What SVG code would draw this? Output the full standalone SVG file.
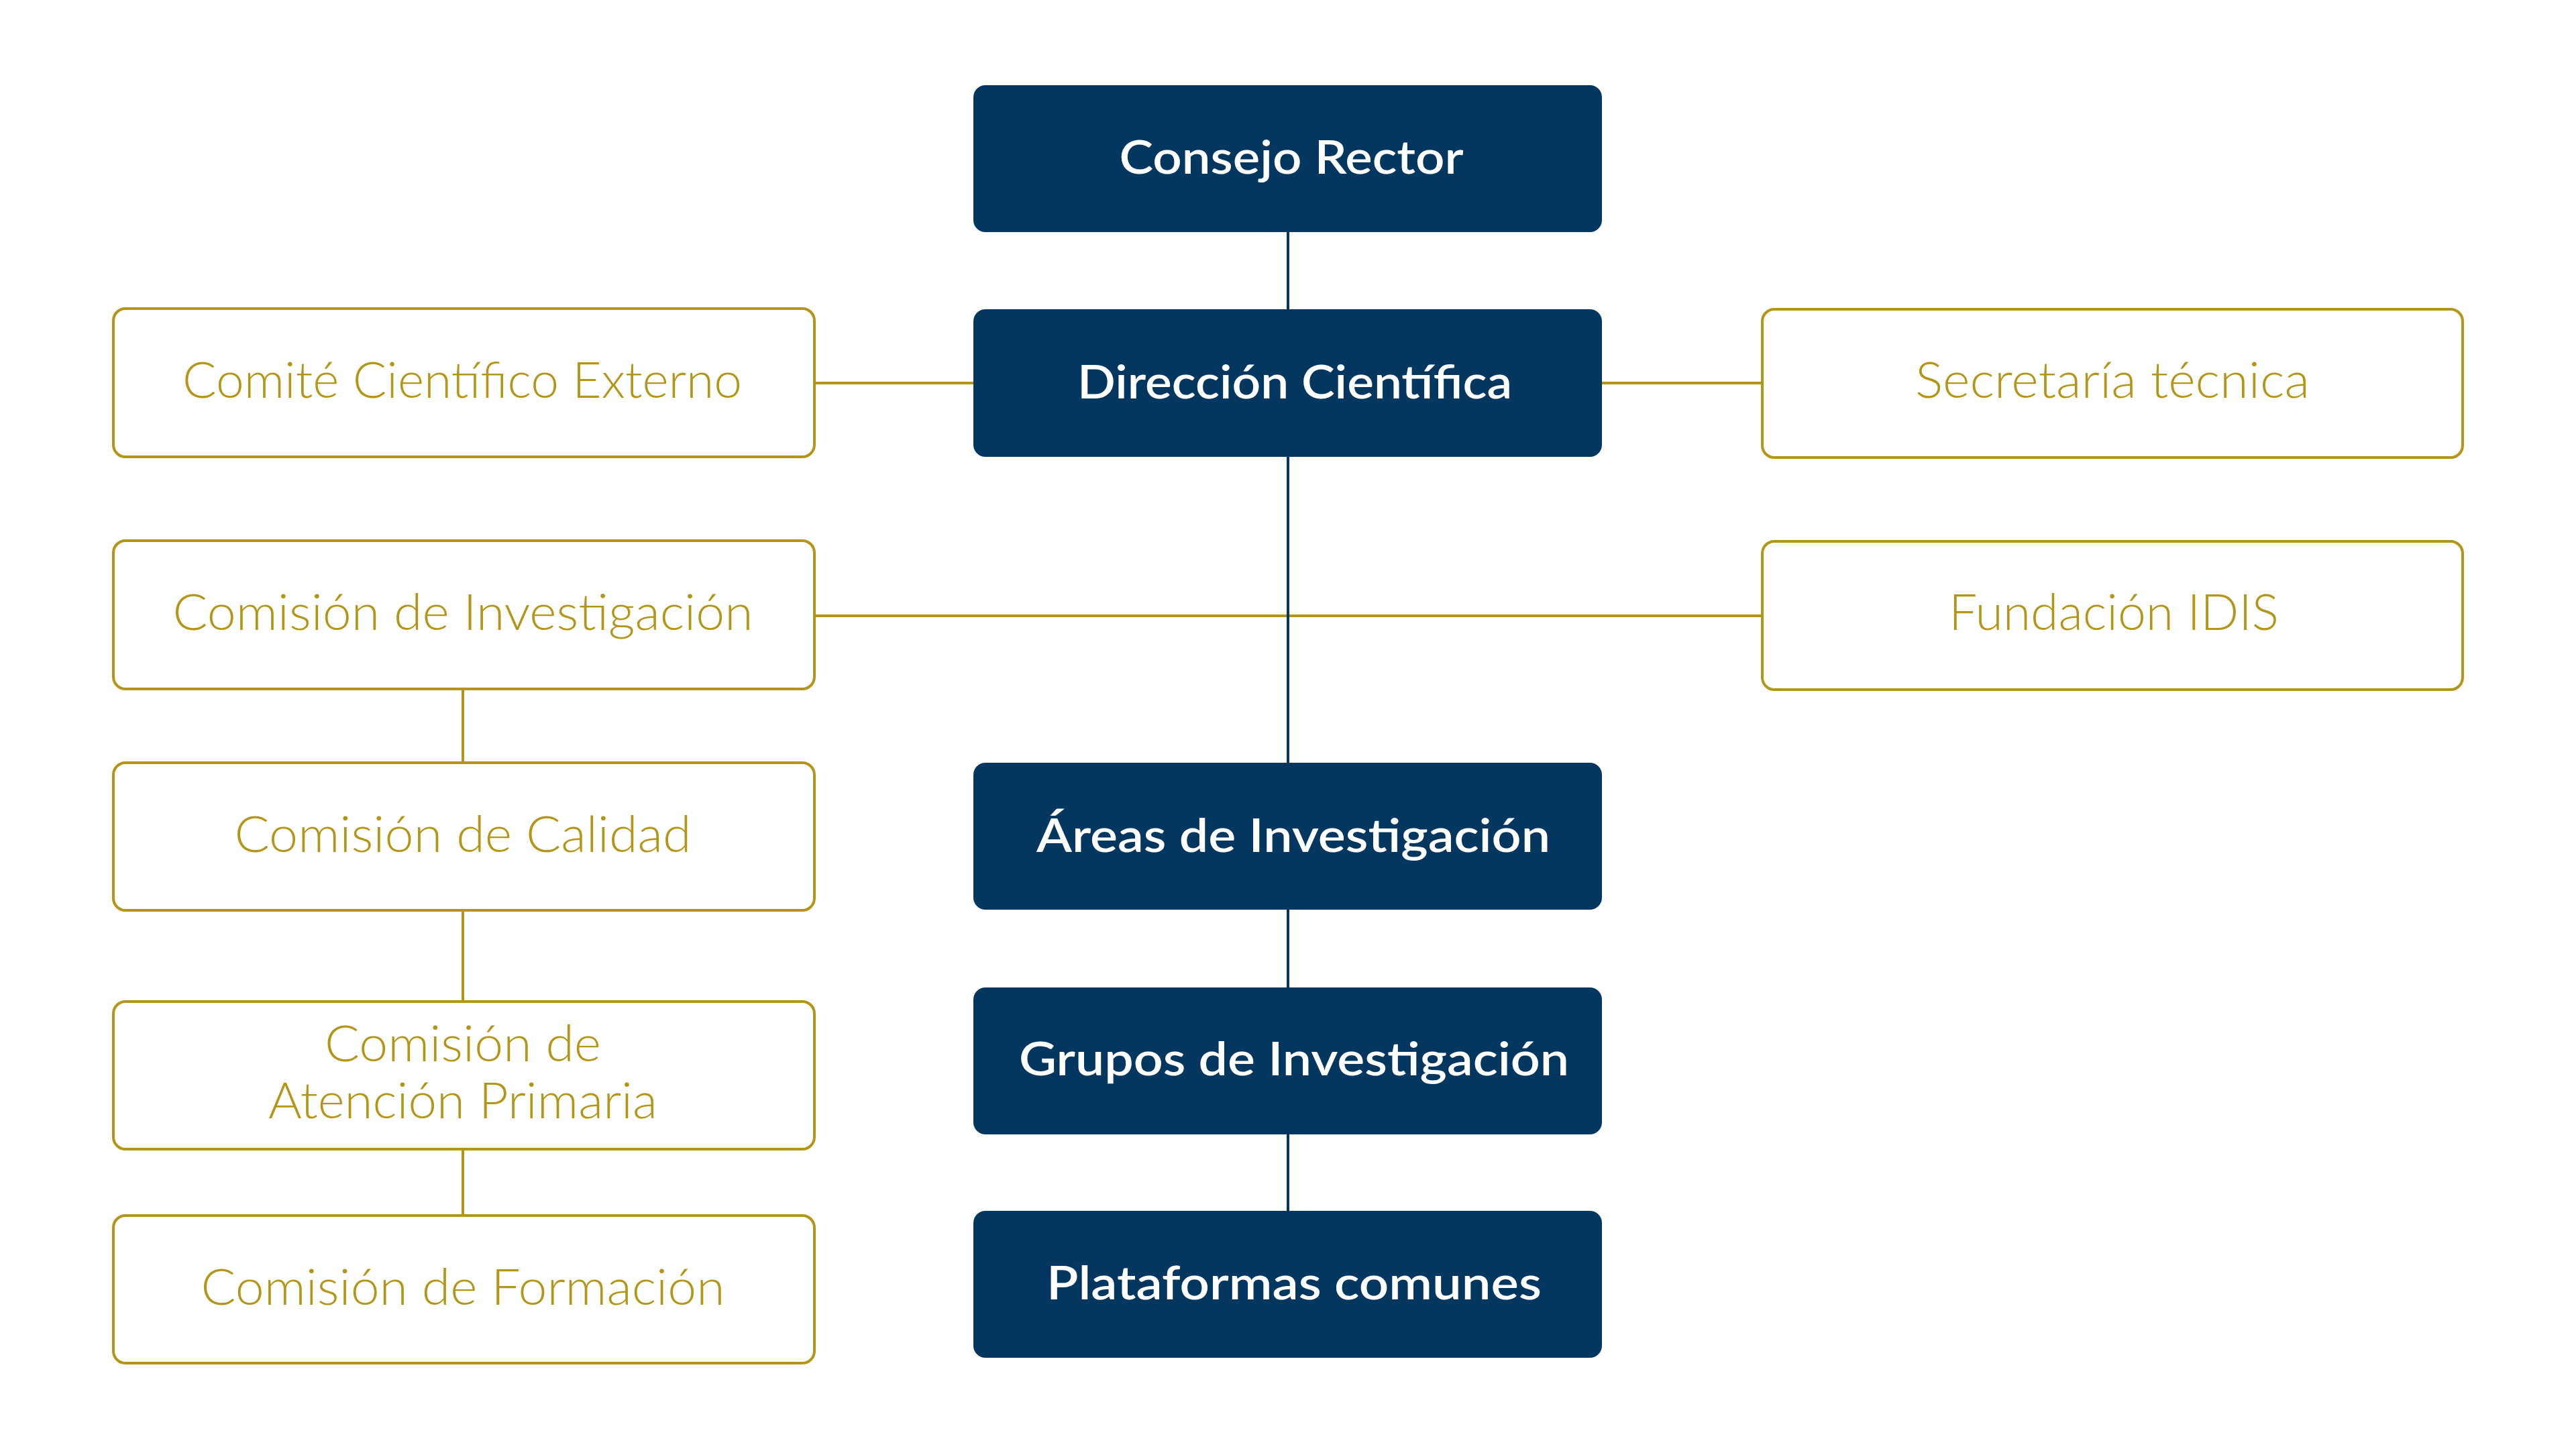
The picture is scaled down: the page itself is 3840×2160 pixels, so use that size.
<svg xmlns="http://www.w3.org/2000/svg" width="3840" height="2160" viewBox="0 0 3840 2160">
<style>
.navy{fill:#03375F;}
.gold{fill:#FFFFFF;stroke:#B39617;stroke-width:4;}
.tn{font-family:Lato,"Open Sans","Liberation Sans",sans-serif;font-weight:600;font-size:70px;fill:#FFFFFF;text-anchor:middle;}
.tg{font-family:Lato,"Open Sans","Liberation Sans",sans-serif;font-weight:300;font-size:74px;fill:#B39617;text-anchor:middle;}
.cg{stroke:#B39617;stroke-width:4;fill:none;}
.cn{stroke:#03375F;stroke-width:4;fill:none;}
</style>
<rect width="3840" height="2160" fill="#FFFFFF"/>
<g id="connectors">
<line class="cg" x1="1214" y1="571" x2="1451" y2="571"/>
<line class="cg" x1="2388" y1="571" x2="2627" y2="571"/>
<line class="cg" x1="1214" y1="918" x2="2627" y2="918"/>
<line class="cg" x1="690" y1="1027" x2="690" y2="1137"/>
<line class="cg" x1="690" y1="1357" x2="690" y2="1493"/>
<line class="cg" x1="690" y1="1713" x2="690" y2="1812"/>
<line class="cn" x1="1920" y1="346" x2="1920" y2="461"/>
<line class="cn" x1="1920" y1="681" x2="1920" y2="1137"/>
<line class="cn" x1="1920" y1="1356" x2="1920" y2="1472"/>
<line class="cn" x1="1920" y1="1691" x2="1920" y2="1805"/>
</g>
<g id="consejo-rector">
<rect class="navy" x="1451" y="127" width="937" height="219" rx="18"/>
<text class="tn" x="1925" y="259" textLength="513" lengthAdjust="spacingAndGlyphs">Consejo Rector</text>
</g>
<g id="direccion-cientifica">
<rect class="navy" x="1451" y="461" width="937" height="220" rx="18"/>
<text class="tn" x="1930" y="594" textLength="648" lengthAdjust="spacingAndGlyphs">Dirección Científica</text>
</g>
<g id="areas-investigacion">
<rect class="navy" x="1451" y="1137" width="937" height="219" rx="18"/>
<text class="tn" x="1928" y="1270" textLength="766" lengthAdjust="spacingAndGlyphs">Áreas de Investigación</text>
</g>
<g id="grupos-investigacion">
<rect class="navy" x="1451" y="1472" width="937" height="219" rx="18"/>
<text class="tn" x="1929" y="1603" textLength="820" lengthAdjust="spacingAndGlyphs">Grupos de Investigación</text>
</g>
<g id="plataformas-comunes">
<rect class="navy" x="1451" y="1805" width="937" height="219" rx="18"/>
<text class="tn" x="1929" y="1937" textLength="738" lengthAdjust="spacingAndGlyphs">Plataformas comunes</text>
</g>
<g id="comite-cientifico-externo">
<rect class="gold" x="169" y="460" width="1045" height="221" rx="18"/>
<text class="tg" x="689" y="593" textLength="834" lengthAdjust="spacingAndGlyphs">Comité Científico Externo</text>
</g>
<g id="comision-investigacion">
<rect class="gold" x="169" y="806" width="1045" height="221" rx="18"/>
<text class="tg" x="690" y="939" textLength="865" lengthAdjust="spacingAndGlyphs">Comisión de Investigación</text>
</g>
<g id="comision-calidad">
<rect class="gold" x="169" y="1137" width="1045" height="220" rx="18"/>
<text class="tg" x="690" y="1270" textLength="681" lengthAdjust="spacingAndGlyphs">Comisión de Calidad</text>
</g>
<g id="comision-atencion-primaria">
<rect class="gold" x="169" y="1493" width="1045" height="220" rx="18"/>
<text class="tg" x="690" y="1582" textLength="412" lengthAdjust="spacingAndGlyphs">Comisión de</text>
<text class="tg" x="690" y="1667" textLength="580" lengthAdjust="spacingAndGlyphs">Atención Primaria</text>
</g>
<g id="comision-formacion">
<rect class="gold" x="169" y="1812" width="1045" height="220" rx="18"/>
<text class="tg" x="690" y="1945" textLength="781" lengthAdjust="spacingAndGlyphs">Comisión de Formación</text>
</g>
<g id="secretaria-tecnica">
<rect class="gold" x="2627" y="461" width="1044" height="221" rx="18"/>
<text class="tg" x="3149" y="593" textLength="588" lengthAdjust="spacingAndGlyphs">Secretaría técnica</text>
</g>
<g id="fundacion-idis">
<rect class="gold" x="2627" y="807" width="1044" height="221" rx="18"/>
<text class="tg" x="3151" y="939" textLength="492" lengthAdjust="spacingAndGlyphs">Fundación IDIS</text>
</g>
</svg>
